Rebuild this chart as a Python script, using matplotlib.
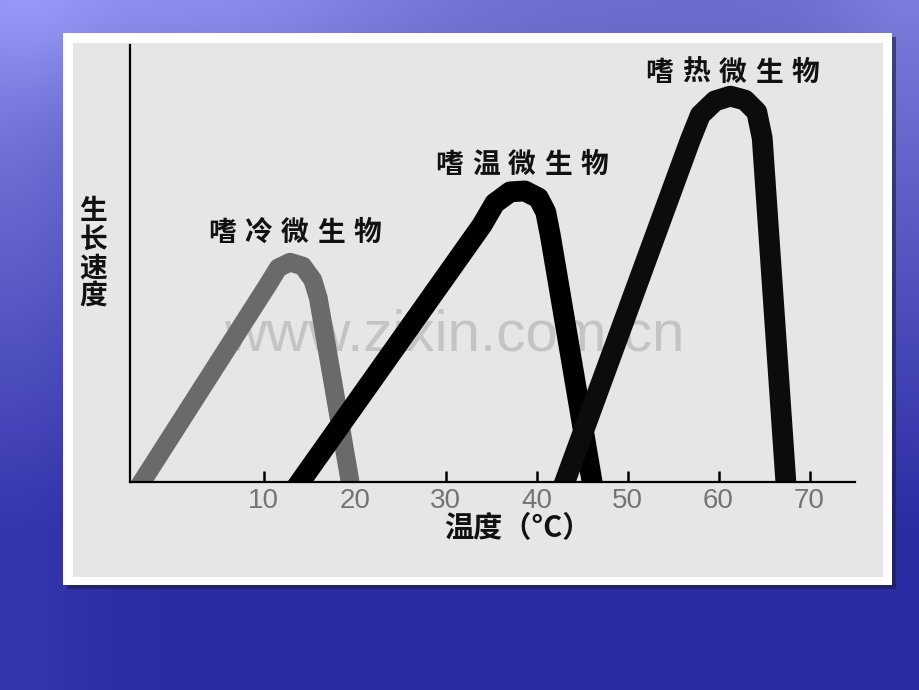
import numpy as np
import matplotlib
matplotlib.use("Agg")
import matplotlib.pyplot as plt
from matplotlib.patches import Rectangle

plt.rcParams['font.family'] = ['Noto Sans CJK SC', 'DejaVu Sans']

# centre line of each band: temperature (°C) vs relative growth rate
psychro_t = [-3.4, 10.45, 11.6, 12.9, 14.3, 15.4, 16.0, 19.5]
psychro_v = [0, 45.1, 49.0, 50.3, 49.4, 46.2, 42.1, 0]

meso_t = [14.0, 34.0, 35.4, 37.1, 38.7, 40.2, 41.0, 41.5, 46.1]
meso_v = [0, 58.8, 63.8, 66.4, 66.6, 65.0, 61.8, 56.5, 0]

thermo_t = [43.1, 56.9, 58.0, 59.6, 61.3, 62.9, 64.2, 64.8, 67.4]
thermo_v = [0, 78.3, 84.0, 87.2, 88.3, 87.4, 84.7, 78.7, 0]

curve_names = ["嗜冷微生物", "嗜温微生物", "嗜热微生物"]
xticks = [10, 20, 30, 40, 50, 60, 70]
ylabel_text = "生长速度"
xlabel_text = "温度（°C）"
watermark = "www.zixin.com.cn"

W, H = 920, 690
fig = plt.figure(figsize=(W / 100, H / 100), dpi=100)

# slide background, pixel coordinates
bg = fig.add_axes([0, 0, 1, 1])
bg.set_xlim(0, W)
bg.set_ylim(H, 0)
bg.axis('off')
yy, xx = np.mgrid[0:1:70j, 0:1:92j]
top = np.array([0.42, 0.43, 0.80])
bot = np.array([0.17, 0.17, 0.64])
f = np.clip(yy * 1.3, 0, 1)[..., None]
img = top * (1 - f) + bot * f
img = img + 0.12 * np.exp(-((xx - 0.2) / 0.25) ** 2 - (yy / 0.12) ** 2)[..., None]
img = img + 0.10 * np.exp(-((xx - 0.0) / 0.10) ** 2)[..., None] * (1 - f * 0.6)
img = img + 0.06 * np.exp(-((xx - 1.0) / 0.10) ** 2)[..., None] * (1 - f)
img = np.clip(img, 0, 1)
bg.imshow(img, extent=[0, W, H, 0], aspect='auto', interpolation='bicubic')

# white card with shadow and grey inner area
bg.add_patch(Rectangle((67, 37), 829, 552, color='#1c1c40', alpha=0.6, lw=0))
bg.add_patch(Rectangle((63, 33), 829, 552, color='white', lw=0))
bg.add_patch(Rectangle((73, 43), 810, 534, color='#e6e6e6', lw=0))

ax = fig.add_axes([130 / W, 1 - 482 / H, (855 - 130) / W, (482 - 45) / H])
ax.set_facecolor('none')
ax.set_xlim(-4.7, 75.0)
ax.set_ylim(0, 100)

ax.text(30.9, 30.0, watermark, ha='center', va='baseline', fontsize=42,
        family='Liberation Sans', color='#c4c4c4', zorder=1)

ax.plot(psychro_t, psychro_v, color='#6a6a6a', lw=13.5,
        solid_capstyle='projecting', solid_joinstyle='round', zorder=2)
ax.plot(meso_t, meso_v, color='black', lw=15,
        solid_capstyle='projecting', solid_joinstyle='round', zorder=3)
ax.plot(thermo_t, thermo_v, color='#0c0c0c', lw=15,
        solid_capstyle='projecting', solid_joinstyle='round', zorder=3)


def spaced_text(ax, x, y, s, step, **kw):
    n = len(s)
    for i, ch in enumerate(s):
        ax.text(x + (i - (n - 1) / 2) * step, y, ch, ha='center', va='center', **kw)


label_pos = [(13.4, 57.0), (38.4, 72.5), (61.5, 93.6)]
for name, (lx, ly) in zip(curve_names, label_pos):
    spaced_text(ax, lx, ly, name, 4.0, fontsize=20, fontweight='bold', color='#111111')

for side in ['top', 'right']:
    ax.spines[side].set_visible(False)
for side in ['left', 'bottom']:
    ax.spines[side].set_linewidth(1.6)
    ax.spines[side].set_zorder(4)

ax.set_yticks([])
ax.set_xticks(xticks)
ax.set_xticklabels([str(t) for t in xticks])
ax.tick_params(axis='x', direction='in', length=8, width=1.8, pad=4,
               labelsize=20, labelcolor='#747474')
for lbl in ax.get_xticklabels():
    lbl.set_family('Liberation Sans')

fig.text(518 / W, 1 - 528 / H, xlabel_text, ha='center', va='center',
         fontsize=21, fontweight='bold', color='#111111')
fig.text(93 / W, 1 - 254 / H, "\n".join(ylabel_text), ha='center', va='center',
         fontsize=20, fontweight='bold', color='#111111', linespacing=1.02)

fig.savefig("out.png", dpi=100)
